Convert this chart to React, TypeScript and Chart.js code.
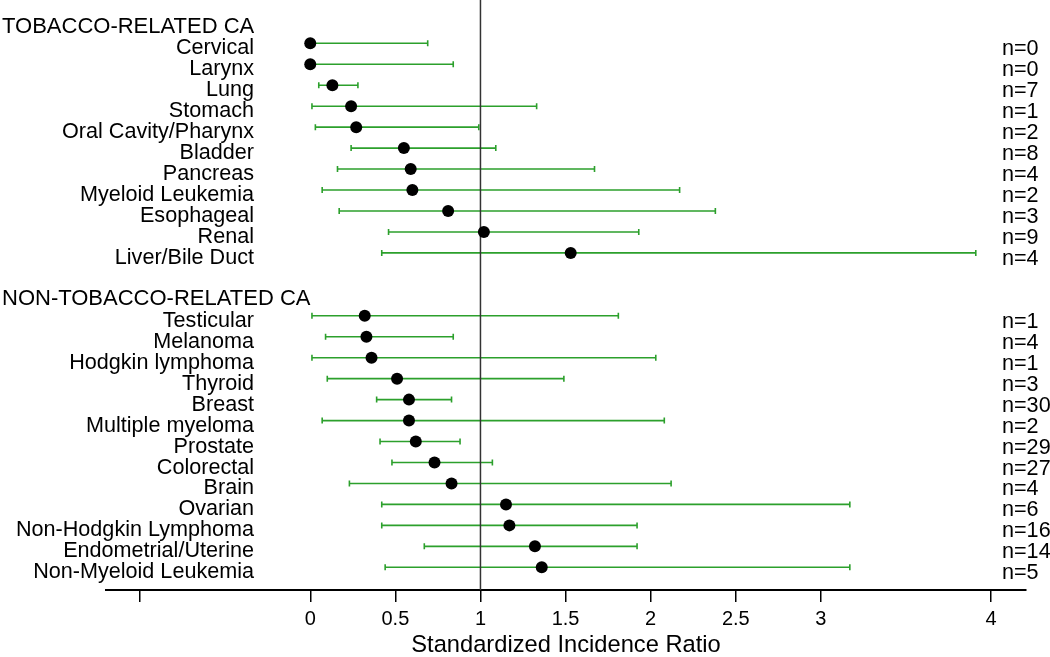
import React, { useEffect, useRef } from 'react';
import { Chart, registerables } from 'chart.js';

Chart.register(...registerables);

// ---------- data ----------
const groupTitles = ['TOBACCO-RELATED CA', 'NON-TOBACCO-RELATED CA'];

const tobaccoSites = [
  'Cervical', 'Larynx', 'Lung', 'Stomach', 'Oral Cavity/Pharynx', 'Bladder',
  'Pancreas', 'Myeloid Leukemia', 'Esophageal', 'Renal', 'Liver/Bile Duct',
];
const tobaccoSIR = [0, 0, 0.13, 0.24, 0.27, 0.55, 0.59, 0.6, 0.81, 1.02, 1.53];
const tobaccoLower = [0, 0, 0.05, 0.01, 0.03, 0.24, 0.16, 0.07, 0.17, 0.46, 0.42];
const tobaccoUpper = [0.69, 0.84, 0.28, 1.33, 0.99, 1.09, 1.67, 2.17, 2.38, 1.93, 3.91];
const tobaccoN = [0, 0, 7, 1, 2, 8, 4, 2, 3, 9, 4];

const nonTobaccoSites = [
  'Testicular', 'Melanoma', 'Hodgkin lymphoma', 'Thyroid', 'Breast', 'Multiple myeloma',
  'Prostate', 'Colorectal', 'Brain', 'Ovarian', 'Non-Hodgkin Lymphoma',
  'Endometrial/Uterine', 'Non-Myeloid Leukemia',
];
const nonTobaccoSIR = [0.32, 0.33, 0.36, 0.51, 0.58, 0.58, 0.62, 0.73, 0.83, 1.15, 1.17, 1.32, 1.36];
const nonTobaccoLower = [0.01, 0.09, 0.01, 0.1, 0.39, 0.07, 0.41, 0.48, 0.23, 0.42, 0.42, 0.67, 0.44];
const nonTobaccoUpper = [1.81, 0.84, 2.03, 1.49, 0.83, 2.08, 0.88, 1.07, 2.12, 3.17, 1.92, 1.92, 3.17];
const nonTobaccoN = [1, 4, 1, 3, 30, 2, 29, 27, 4, 6, 16, 14, 5];

const xTickValues = [-1, 0, 0.5, 1, 1.5, 2, 2.5, 3, 4];
const xTickLabels = ['', '0', '0.5', '1', '1.5', '2', '2.5', '3', '4'];
const referenceSIR = 1;
const xAxisTitle = 'Standardized Incidence Ratio';

// ---------- rows ----------
type Row = { y: number; label: string; header: boolean; sir?: number; lo?: number; hi?: number; n?: number };
const rows: Row[] = [];
let rowIndex = 0;
rows.push({ y: rowIndex++, label: groupTitles[0], header: true });
tobaccoSites.forEach((s, i) =>
  rows.push({ y: rowIndex++, label: s, header: false, sir: tobaccoSIR[i], lo: tobaccoLower[i], hi: tobaccoUpper[i], n: tobaccoN[i] })
);
rowIndex++; // blank spacer row
rows.push({ y: rowIndex++, label: groupTitles[1], header: true });
nonTobaccoSites.forEach((s, i) =>
  rows.push({ y: rowIndex++, label: s, header: false, sir: nonTobaccoSIR[i], lo: nonTobaccoLower[i], hi: nonTobaccoUpper[i], n: nonTobaccoN[i] })
);

const FONT = '"Liberation Sans", Arial, Helvetica, sans-serif';
const GREEN = '#2ca02c';

const forestPlugin = {
  id: 'forest',
  beforeDatasetsDraw(chart: any) {
    const { ctx, scales } = chart;
    const x = scales.x;
    const y = scales.y;
    ctx.save();
    ctx.strokeStyle = GREEN;
    ctx.lineWidth = 1.6;
    rows.forEach((row) => {
      if (row.header) return;
      const py = y.getPixelForValue(row.y);
      const x0 = x.getPixelForValue(row.lo);
      const x1 = x.getPixelForValue(row.hi);
      ctx.beginPath();
      ctx.moveTo(x0, py);
      ctx.lineTo(x1, py);
      ctx.moveTo(x0, py - 3);
      ctx.lineTo(x0, py + 3);
      ctx.moveTo(x1, py - 3);
      ctx.lineTo(x1, py + 3);
      ctx.stroke();
    });
    ctx.restore();
  },
  afterDraw(chart: any) {
    const { ctx, scales } = chart;
    const y = scales.y;
    ctx.save();
    ctx.fillStyle = '#000';
    ctx.textBaseline = 'alphabetic';
    rows.forEach((row) => {
      const py = y.getPixelForValue(row.y);
      if (row.header) {
        ctx.font = `22px ${FONT}`;
        ctx.textAlign = 'left';
        ctx.fillText(row.label, 2, py + 10.5);
      } else {
        ctx.font = `21.6px ${FONT}`;
        ctx.textAlign = 'right';
        ctx.fillText(row.label, 254, py + 11);
        ctx.textAlign = 'left';
        ctx.fillText(`n=${row.n}`, 1002, py + 12);
      }
    });
    ctx.restore();
  },
};

export default function App() {
  const ref = useRef<HTMLCanvasElement | null>(null);

  useEffect(() => {
    if (!ref.current) return;
    const dataRows = rows.filter((r) => !r.header);
    const chart = new Chart(ref.current, {
      type: 'scatter',
      data: {
        datasets: [
          {
            label: 'SIR',
            data: dataRows.map((r) => ({ x: r.sir as number, y: r.y })),
            pointRadius: 6,
            pointBackgroundColor: '#000',
            pointBorderWidth: 0,
            showLine: false,
          },
          {
            type: 'line',
            label: 'ref',
            data: [
              { x: referenceSIR, y: -1.066 },
              { x: referenceSIR, y: 27.083 },
            ],
            borderColor: '#333',
            borderWidth: 1.5,
            pointRadius: 0,
            showLine: true,
          } as any,
        ],
      },
      options: {
        animation: false,
        responsive: false,
        events: [],
        layout: { autoPadding: false, padding: { left: 106, right: 24, top: 0, bottom: 0 } },
        plugins: { legend: { display: false }, tooltip: { enabled: false } },
        scales: {
          x: {
            type: 'linear',
            min: -1.2,
            max: 4.205,
            afterBuildTicks: (s: any) => {
              s.ticks = xTickValues.map((v) => ({ value: v }));
            },
            afterFit: (s: any) => {
              s.height = 67;
            },
            ticks: {
              autoSkip: false,
              maxRotation: 0,
              padding: 7,
              color: '#000',
              font: { family: FONT, size: 20, lineHeight: 1 },
              callback: (v: any) => xTickLabels[xTickValues.indexOf(Number(v))] ?? '',
            },
            grid: {
              drawOnChartArea: false,
              drawTicks: true,
              tickLength: 12,
              color: '#000',
              lineWidth: 1.5,
            },
            border: { display: true, color: '#000', width: 2 },
            title: {
              display: true,
              text: xAxisTitle,
              color: '#000',
              font: { family: FONT, size: 23.7, lineHeight: 1 },
              padding: { top: 0, bottom: 0 },
            },
          },
          y: {
            type: 'linear',
            display: false,
            reverse: true,
            min: -1.066,
            max: 27.083,
          },
        },
      },
      plugins: [forestPlugin],
    });
    return () => chart.destroy();
  }, []);

  return (
    <div style={{ position: 'fixed', left: 0, top: 0, width: 1050, height: 657, background: '#fff' }}>
      <canvas ref={ref} width={1050} height={657} style={{ display: 'block' }} />
    </div>
  );
}
